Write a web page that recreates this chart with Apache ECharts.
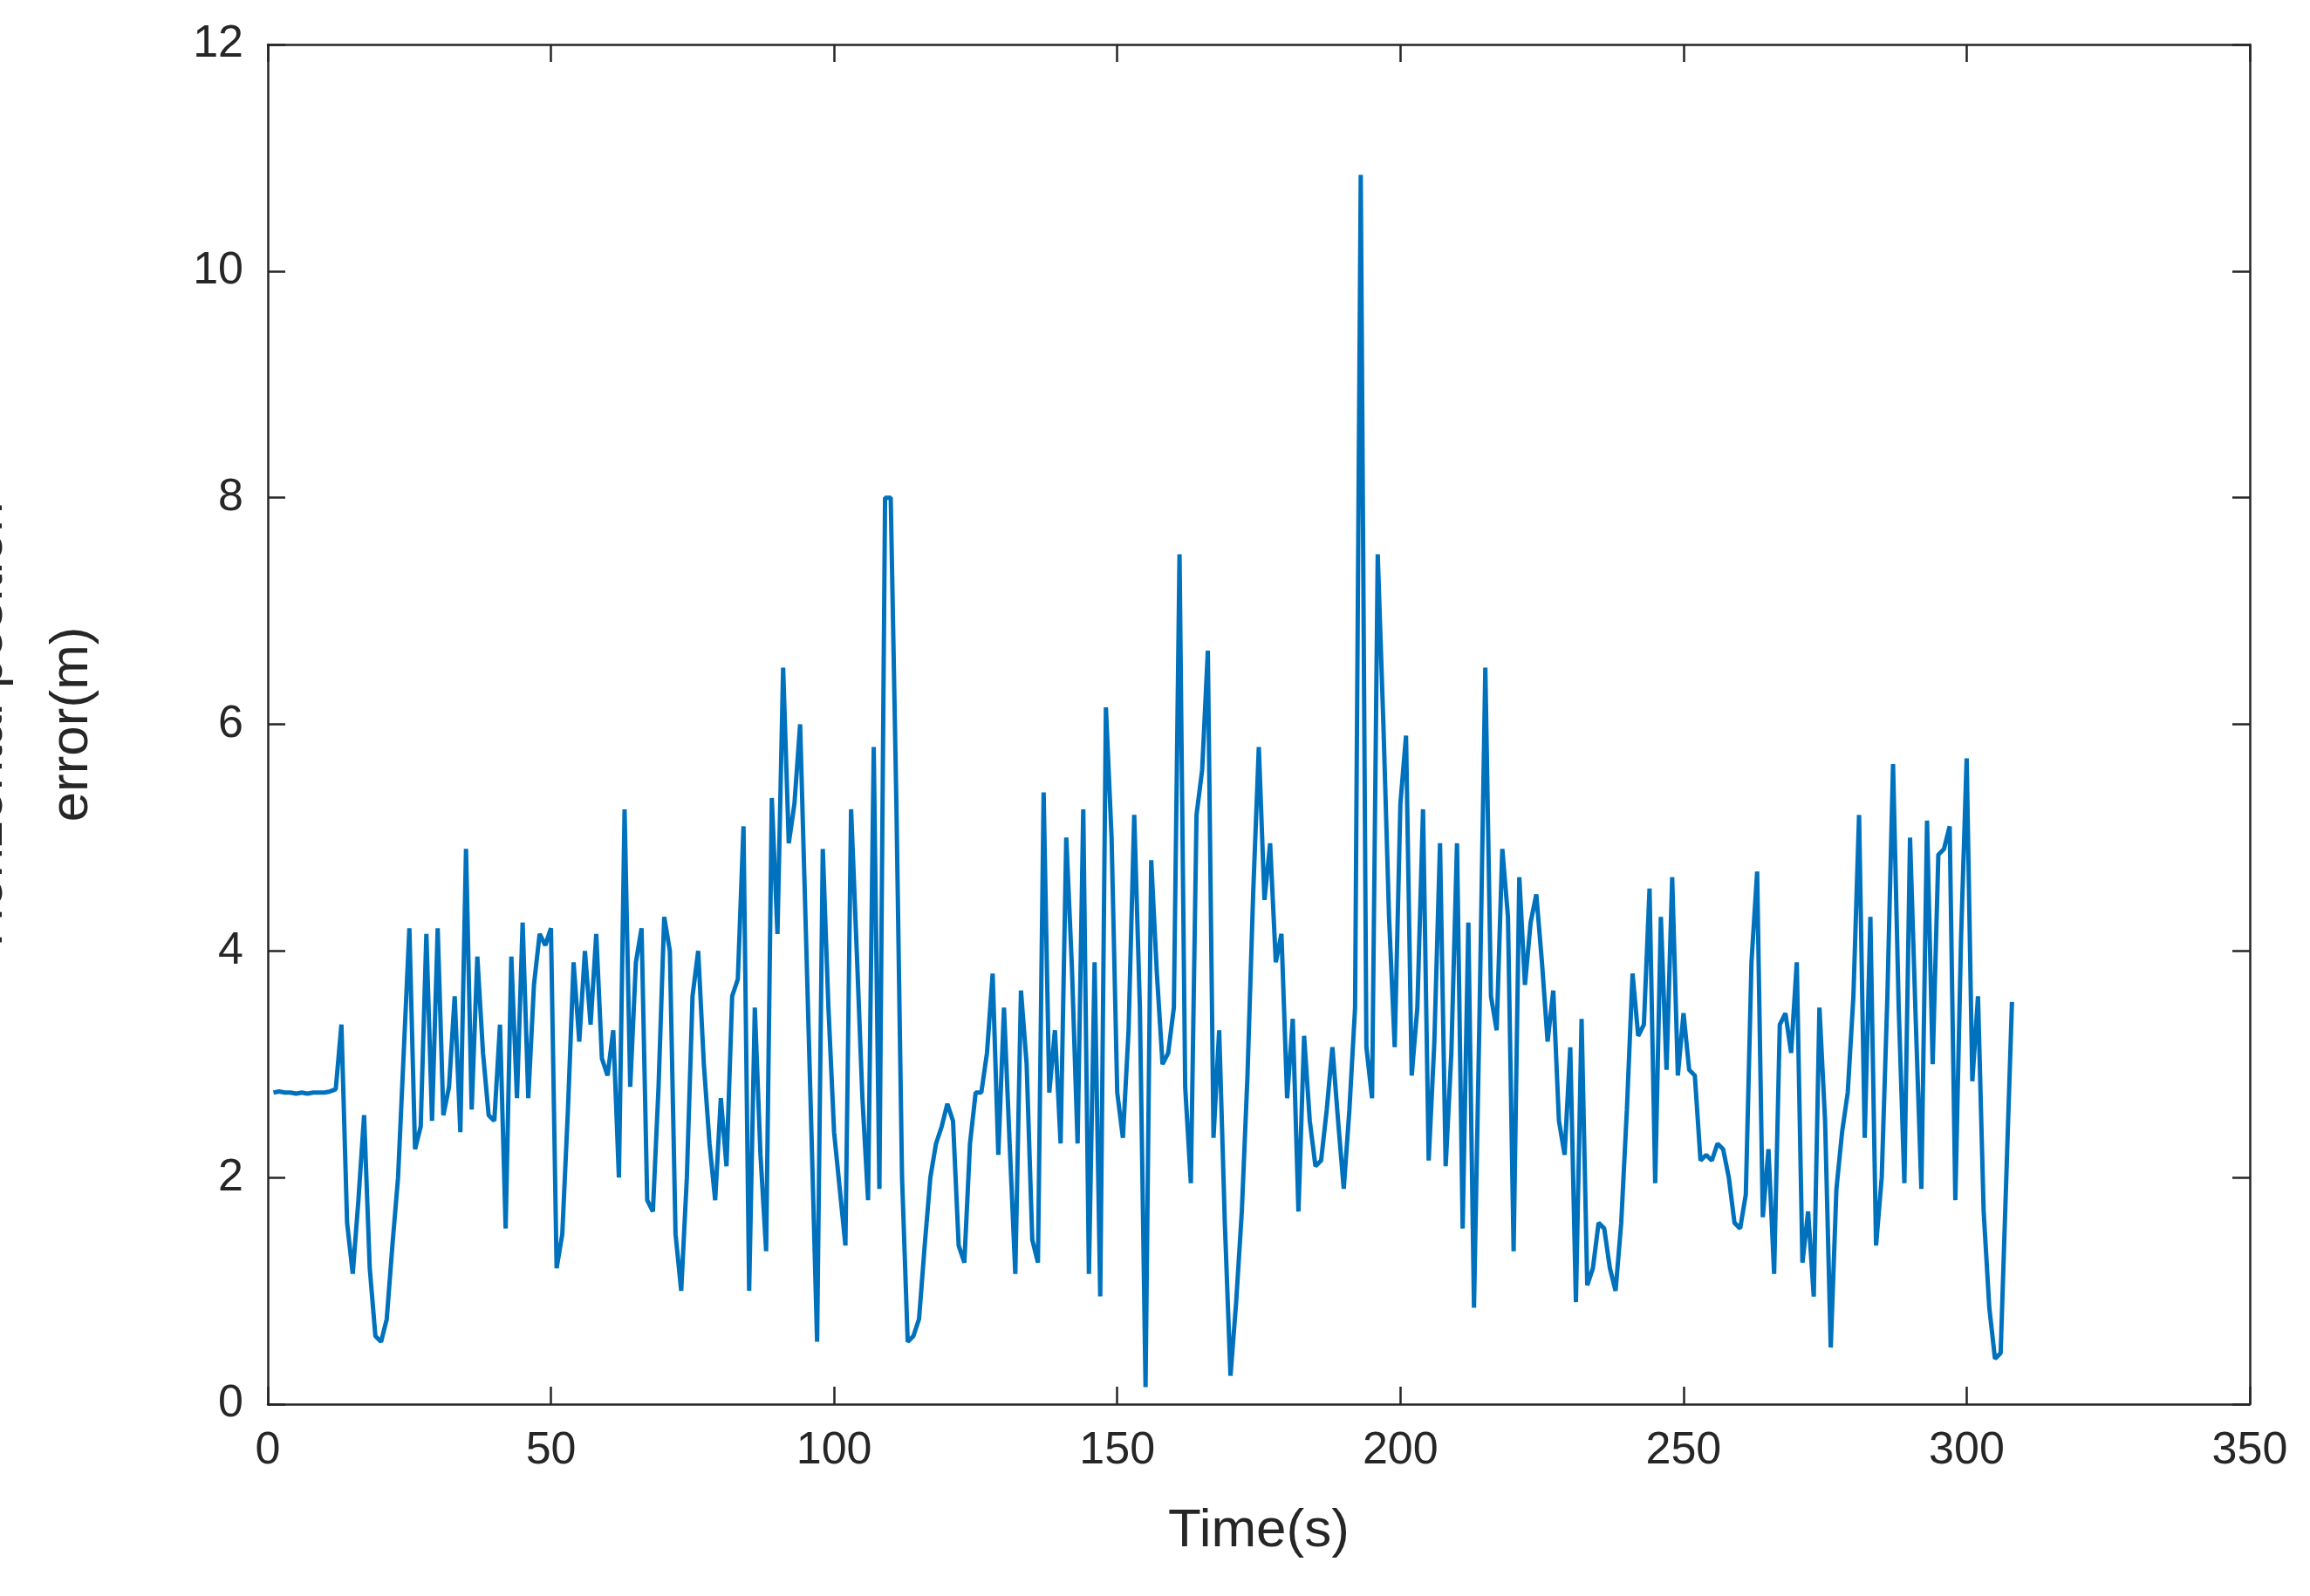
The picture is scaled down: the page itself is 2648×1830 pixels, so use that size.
<!DOCTYPE html>
<html><head><meta charset="utf-8">
<script src="https://cdn.jsdelivr.net/npm/echarts@6/dist/echarts.min.js"></script>
<style>html,body{margin:0;background:#fff}#chart{width:2648px;height:1830px}</style>
</head><body><div id="chart"></div>
<script>
// horizontal position error (m), one sample per second starting at t=1
const errors = [
2.75,2.76,2.75,2.75,2.74,2.75,2.74,2.75,2.75,2.75,2.76,2.78,3.35,1.6,1.15,1.8,2.55,1.2,0.6,0.55,
0.75,1.4,2.0,3.1,4.2,2.25,2.45,4.15,2.5,4.2,2.55,2.8,3.6,2.4,4.9,2.6,3.95,3.1,2.55,2.5,
3.35,1.55,3.95,2.7,4.25,2.7,3.7,4.15,4.05,4.2,1.2,1.5,2.6,3.9,3.2,4.0,3.35,4.15,3.05,2.9,
3.3,2.0,5.25,2.8,3.9,4.2,1.8,1.7,2.8,4.3,4.0,1.5,1.0,2.0,3.6,4.0,3.0,2.3,1.8,2.7,
2.1,3.6,3.75,5.1,1.0,3.5,2.2,1.35,5.35,4.15,6.5,4.95,5.3,6.0,4.2,2.4,0.55,4.9,3.5,2.4,
1.9,1.4,5.25,4.0,2.7,1.8,5.8,1.9,8.0,8.0,5.3,2.0,0.55,0.6,0.75,1.4,2.0,2.3,2.45,2.65,
2.5,1.4,1.25,2.3,2.75,2.75,3.1,3.8,2.2,3.5,2.3,1.15,3.65,3.0,1.45,1.25,5.4,2.75,3.3,2.3,
5.0,3.85,2.3,5.25,1.15,3.9,0.95,6.15,5.0,2.75,2.35,3.3,5.2,3.5,0.15,4.8,3.8,3.0,3.1,3.5,
7.5,2.8,1.95,5.2,5.6,6.65,2.35,3.3,1.6,0.25,0.9,1.7,2.9,4.5,5.8,4.45,4.95,3.9,4.15,2.7,
3.4,1.7,3.25,2.5,2.1,2.15,2.6,3.15,2.5,1.9,2.6,3.5,10.85,3.15,2.7,7.5,6.0,4.3,3.15,5.3,
5.9,2.9,3.5,5.25,2.15,3.2,4.95,2.1,3.1,4.95,1.55,4.25,0.85,3.5,6.5,3.6,3.3,4.9,4.3,1.35,
4.65,3.7,4.25,4.5,3.9,3.2,3.65,2.5,2.2,3.15,0.9,3.4,1.05,1.2,1.6,1.55,1.2,1.0,1.6,2.6,
3.8,3.25,3.35,4.55,1.95,4.3,2.95,4.65,2.9,3.45,2.95,2.9,2.15,2.2,2.15,2.3,2.25,2.0,1.6,1.55,
1.85,3.9,4.7,1.65,2.25,1.15,3.35,3.45,3.1,3.9,1.25,1.7,0.95,3.5,2.5,0.5,1.9,2.4,2.75,3.6,
5.2,2.35,4.3,1.4,2.0,3.6,5.65,3.5,1.95,5.0,3.4,1.9,5.15,3.0,4.85,4.9,5.1,1.8,4.1,5.7,
2.85,3.6,1.7,0.85,0.4,0.45,2.0,3.55
]
const startTime = 1
const xTicks = [0, 350, 50]
const yTicks = [0, 12, 2]

const font = 'Liberation Sans, Arial, sans-serif'
const points = errors.map((v,i)=>[startTime+i, v])
const axisCommon = {
  axisLine:{show:true,onZero:false,lineStyle:{color:'#262626',width:2.5}},
  axisTick:{show:true,inside:true,length:20,lineStyle:{color:'#262626',width:2.5}},
  splitLine:{show:false}
}
const chart = echarts.init(document.getElementById('chart'))
chart.setOption({
  animation:false,
  grid:{left:307,right:69,top:51,bottom:220,containLabel:false,outerBoundsMode:'none'},
  xAxis:[
    Object.assign({type:'value',min:xTicks[0],max:xTicks[1],interval:xTicks[2],
      name:'Time(s)',nameLocation:'middle',nameGap:115,
      nameTextStyle:{fontFamily:font,fontSize:62,color:'#262626'},
      axisLabel:{fontFamily:font,fontSize:52,color:'#262626',margin:28}},axisCommon),
    Object.assign({type:'value',position:'top',min:xTicks[0],max:xTicks[1],interval:xTicks[2],
      axisLabel:{show:false}},axisCommon)
  ],
  yAxis:[
    Object.assign({type:'value',min:yTicks[0],max:yTicks[1],interval:yTicks[2],
      name:'Horizontal position\nerror(m)',nameLocation:'middle',nameGap:175,
      nameTextStyle:{fontFamily:font,fontSize:62,color:'#262626',lineHeight:98},
      axisLabel:{fontFamily:font,fontSize:52,color:'#262626',margin:28}},axisCommon),
    Object.assign({type:'value',position:'right',min:yTicks[0],max:yTicks[1],interval:yTicks[2],
      axisLabel:{show:false}},axisCommon)
  ],
  series:[{type:'line',data:points,showSymbol:false,
    lineStyle:{color:'#0072BD',width:5},itemStyle:{color:'#0072BD'}}]
})
</script></body></html>
